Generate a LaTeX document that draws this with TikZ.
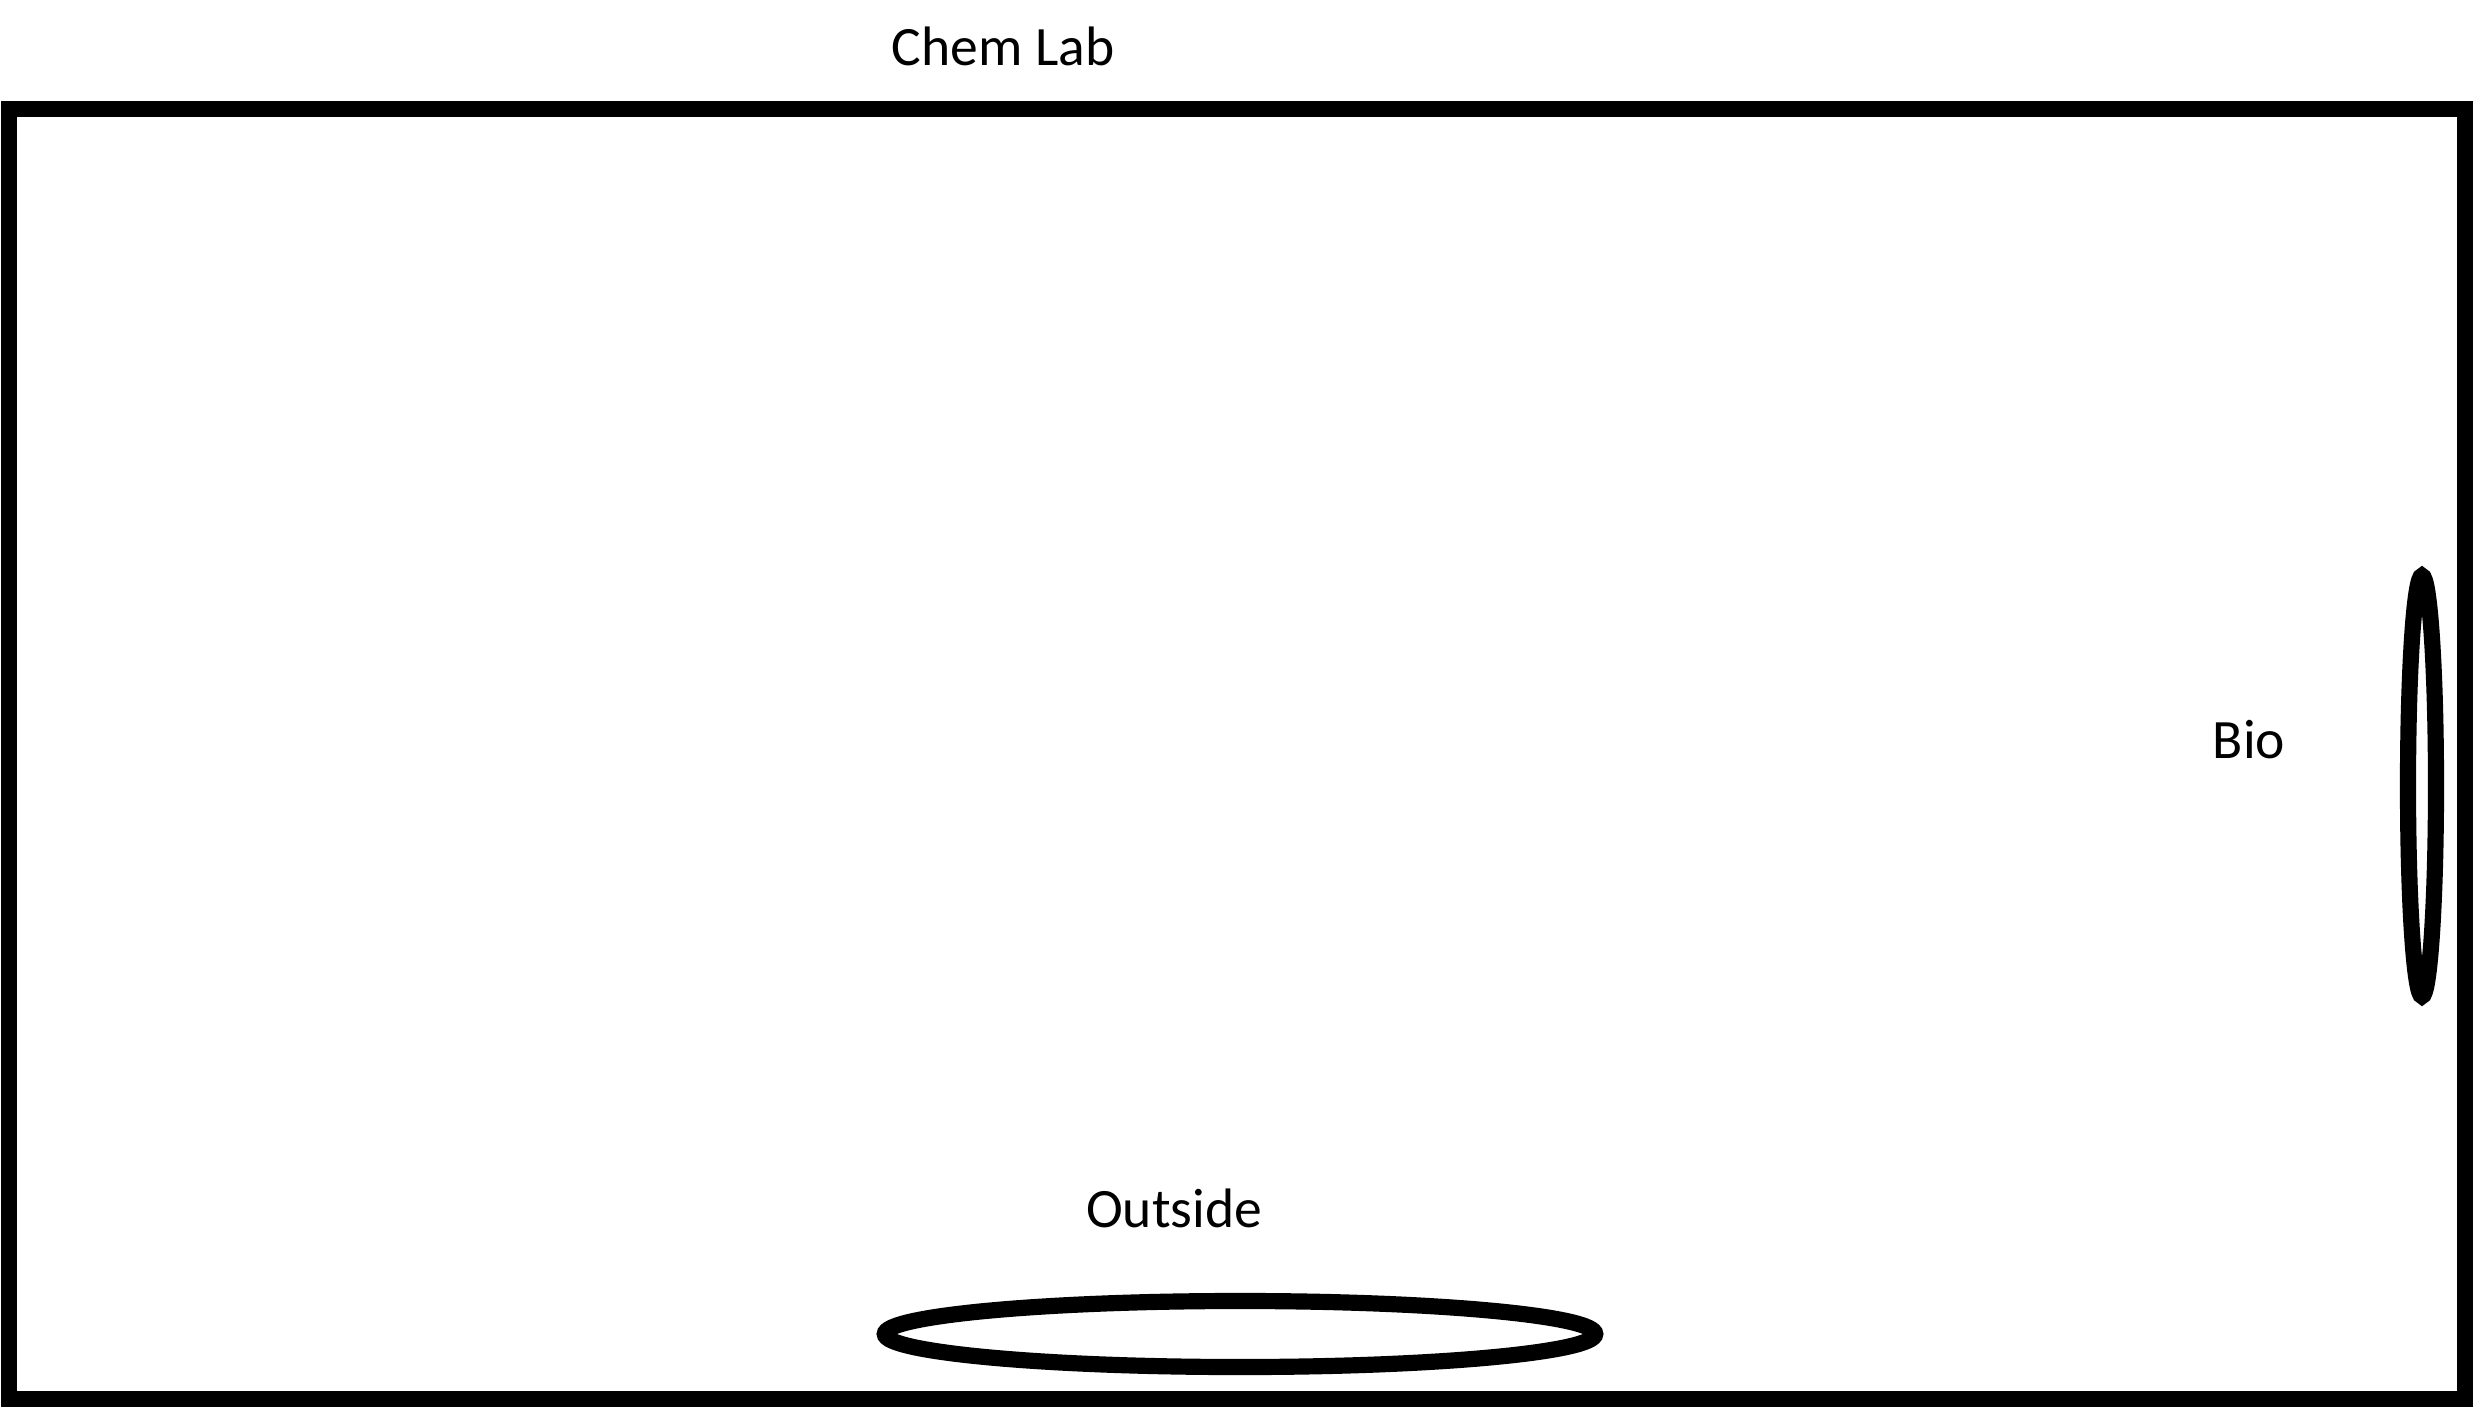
\documentclass[tikz,border=0pt]{standalone}
\usepackage{fontspec}
\setmainfont{Carlito}
\usetikzlibrary{shapes.geometric}
\usetikzlibrary{positioning}

\begin{document}
\begin{tikzpicture}
    [x=0.01cm, y=-0.01cm,
     wall/.style={line width=4.3pt},
     door/.style={draw, ellipse, line width=4.6pt, inner sep=0pt},
     room/.style={font=\fontsize{15.8}{19}\selectfont, anchor=base}]
    \useasboundingbox (0, 0) rectangle (2480, 1423);
    \draw [wall] (9, 109) rectangle (2465, 1399);
    \node (lab) [room] at (1003, 65) {Chem Lab};
    \node (bio) [room] at (2249, 758) {Bio};
    \node (outside) [room] at (1174, 1227) {Outside};
    \node (biodoor) [door, minimum width=0.28cm, minimum height=4.2cm] at (2422, 786) {};
    \node (outdoor) [door, minimum width=7.1cm, minimum height=0.66cm] at (1240, 1334) {};
\end{tikzpicture}
\end{document}
